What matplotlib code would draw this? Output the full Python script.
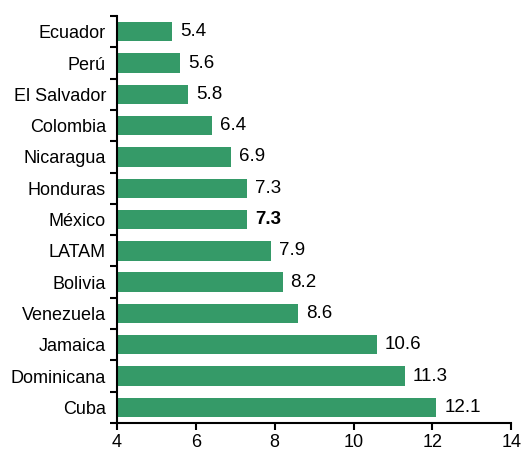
import matplotlib.pyplot as plt
import numpy as np

countries = ['Ecuador', 'Perú', 'El Salvador', 'Colombia', 'Nicaragua', 'Honduras',
             'México', 'LATAM', 'Bolivia', 'Venezuela', 'Jamaica', 'Dominicana', 'Cuba']
values = [5.4, 5.6, 5.8, 6.4, 6.9, 7.3, 7.3, 7.9, 8.2, 8.6, 10.6, 11.3, 12.1]
xticks = [4, 6, 8, 10, 12, 14]

plt.rcParams['font.family'] = ['Liberation Sans', 'DejaVu Sans']

fig = plt.figure(figsize=(5.21, 4.59), dpi=100)
ax = fig.add_axes([0.2246, 0.0784, 0.7566, 0.8866])

y = np.arange(len(countries))
ax.barh(y, values, height=0.62, color='#359A68')

# value labels, Mexico in bold
for yi, v, c in zip(y, values, countries):
    ax.text(v + 0.2, yi, f'{v:.1f}', va='center', ha='left', fontsize=13.5,
            fontweight='bold' if c == 'México' else 'normal')

ax.set_xlim(4, 14)
ax.set_ylim(len(countries) - 0.5, -0.5)
ax.set_xticks(xticks)
ax.set_yticks(y)
ax.set_yticklabels(countries)
ax.set_yticks(np.arange(len(countries) + 1) - 0.5, minor=True)
ax.tick_params(axis='y', which='major', length=0, labelsize=13, pad=8)
ax.tick_params(axis='y', which='minor', length=5, width=1.5, direction='out')
ax.tick_params(axis='x', length=5, width=1.5, direction='out', labelsize=13, pad=3)
ax.spines['top'].set_visible(False)
ax.spines['right'].set_visible(False)
ax.spines['left'].set_linewidth(1.5)
ax.spines['bottom'].set_linewidth(1.5)

plt.savefig('out.png', dpi=100)
